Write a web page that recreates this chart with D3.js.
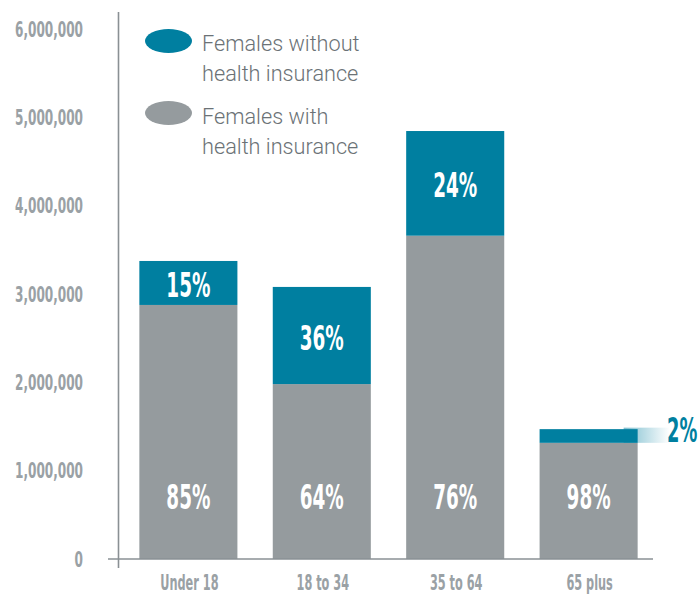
<!DOCTYPE html>
<html>
<head>
<meta charset="utf-8">
<script src="https://cdn.jsdelivr.net/npm/d3@7"></script>
<style>
	body { margin: 0; background: #fff; }
	svg { display: block; }
</style>
</head>
<body>
<svg id="chart" width="699" height="595"></svg>
<script>
// datos
var categorias = ["Under 18", "18 to 34", "35 to 64", "65 plus"];
var conSeguro = [2876000, 1980000, 3660000, 1315000];
var sinSeguro = [498000, 1100000, 1185000, 155000];
var pctCon = ["85%", "64%", "76%", "98%"];
var pctSin = ["15%", "36%", "24%", "2%"];
var marcas = [0, 1000000, 2000000, 3000000, 4000000, 5000000, 6000000];
var leyenda = [
	{ nombre: ["Females without", "health insurance"], color: "#007fa0" },
	{ nombre: ["Females with", "health insurance"], color: "#959b9e" }
];

var AZUL = "#007fa0", GRIS = "#959b9e";
var narrow = "'DejaVu Sans Condensed', 'DejaVu Sans', sans-serif";

var svg = d3.select("#chart");

var y = d3.scaleLinear().domain([0, 6000000]).range([559, 29]);
var x = d3.scaleBand().domain(categorias).range([106, 671]).paddingInner(0.265).paddingOuter(0.25);

// texto comprimido horizontalmente
function texto(g, px, py, s, sx, anchor){
	return g.append("g")
		.attr("transform", "translate(" + px + "," + py + ") scale(" + sx + ",1)")
		.append("text")
		.attr("text-anchor", anchor)
		.text(s);
}

// degradado del 2%
var defs = svg.append("defs");
var grad = defs.append("linearGradient").attr("id", "fade");
grad.append("stop").attr("offset", "0%").attr("stop-color", AZUL).attr("stop-opacity", 0.5);
grad.append("stop").attr("offset", "100%").attr("stop-color", AZUL).attr("stop-opacity", 0);

var ult = categorias.length - 1;
var topUlt = y(conSeguro[ult] + sinSeguro[ult]);
svg.append("rect")
	.attr("x", x(categorias[ult]) + x.bandwidth() - 14)
	.attr("y", topUlt - 1.5)
	.attr("width", 46)
	.attr("height", y(conSeguro[ult]) - topUlt + 1.5)
	.attr("fill", "url(#fade)");

// barras
var barras = svg.append("g");
barras.selectAll("rect.con").data(categorias).enter().append("rect")
	.attr("class", "con")
	.attr("x", function(d){ return x(d); })
	.attr("y", function(d, i){ return y(conSeguro[i]); })
	.attr("width", x.bandwidth())
	.attr("height", function(d, i){ return y(0) - y(conSeguro[i]); })
	.attr("fill", GRIS);
barras.selectAll("rect.sin").data(categorias).enter().append("rect")
	.attr("class", "sin")
	.attr("x", function(d){ return x(d); })
	.attr("y", function(d, i){ return y(conSeguro[i] + sinSeguro[i]); })
	.attr("width", x.bandwidth())
	.attr("height", function(d, i){ return y(conSeguro[i]) - y(conSeguro[i] + sinSeguro[i]); })
	.attr("fill", AZUL);

// etiquetas de porcentaje
var etiq = svg.append("g")
	.style("font-family", narrow)
	.style("font-size", "33px")
	.style("font-weight", "bold")
	.attr("fill", "#fff");
for (var i = 0; i < categorias.length; i++) {
	var cx = x(categorias[i]) + x.bandwidth() / 2;
	texto(etiq, cx, 509, pctCon[i], 0.62, "middle");
	if (i < ult) {
		var mid = (y(conSeguro[i]) + y(conSeguro[i] + sinSeguro[i])) / 2 + 2;
		texto(etiq, cx, mid + 12, pctSin[i], 0.62, "middle");
	} else {
		texto(etiq, 667, y(conSeguro[i] + sinSeguro[i]) + 13, pctSin[i], 0.6, "start").attr("fill", AZUL);
	}
}

// eje y
var eje = svg.append("g")
	.style("font-family", narrow)
	.style("font-size", "21px")
	.style("font-weight", "bold")
	.attr("fill", "#9aa1a5");
marcas.forEach(function(m){
	texto(eje, 83, y(m) + 7.5, d3.format(",")(m), 0.64, "end");
});
svg.append("line")
	.attr("x1", 118.5).attr("x2", 118.5)
	.attr("y1", 12).attr("y2", 568)
	.attr("stroke", "#8a9094").attr("stroke-width", 1.6);
svg.append("line")
	.attr("x1", 108).attr("x2", 653)
	.attr("y1", y(0)).attr("y2", y(0))
	.attr("stroke", "#8a9094").attr("stroke-width", 1.6);

// eje x
var ejeX = svg.append("g")
	.style("font-family", narrow)
	.style("font-size", "21px")
	.style("font-weight", "bold")
	.attr("fill", "#9aa1a5");
categorias.forEach(function(c){
	texto(ejeX, x(c) + x.bandwidth() / 2 + 1, 590, c, 0.6, "middle");
});

// leyenda
var ley = svg.append("g")
	.style("font-family", "Roboto, 'Liberation Sans', sans-serif")
	.style("font-size", "21.7px")
	.style("font-weight", "300");
leyenda.forEach(function(l, k){
	ley.append("ellipse")
		.attr("cx", 168.5).attr("cy", 41 + k * 72)
		.attr("rx", 23.5).attr("ry", 12)
		.attr("fill", l.color);
	l.nombre.forEach(function(s, j){
		ley.append("text")
			.attr("x", 202)
			.attr("y", 51 + k * 73 + j * 30)
			.attr("fill", "#6b7276")
			.text(s);
	});
});
</script>
</body>
</html>
